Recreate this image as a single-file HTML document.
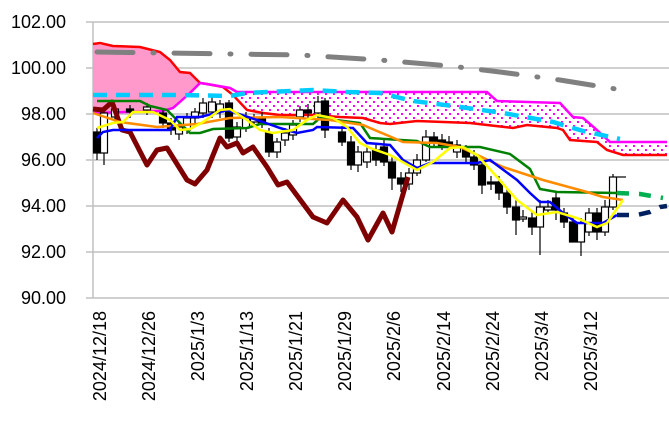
<!DOCTYPE html>
<html><head><meta charset="utf-8"><style>html,body{margin:0;padding:0;background:#fff}svg{display:block}</style></head><body>
<svg width="669" height="421" xmlns="http://www.w3.org/2000/svg" font-family="Liberation Sans, sans-serif">
<defs>
<pattern id="dots" width="8" height="8" patternUnits="userSpaceOnUse">
<rect width="8" height="8" fill="#fff"/><rect x="1" y="1" width="2" height="2" fill="#ff00ff"/><rect x="5" y="5" width="2" height="2" fill="#ff00ff"/></pattern>
<clipPath id="cL"><rect x="0" y="0" width="200" height="421"/></clipPath>
<clipPath id="cR"><rect x="200" y="0" width="469" height="421"/></clipPath>
</defs>
<g stroke="#c0c0c0" stroke-width="1.5">
<line x1="86" y1="22" x2="669" y2="22"/><line x1="86" y1="68" x2="669" y2="68"/><line x1="86" y1="114" x2="669" y2="114"/><line x1="86" y1="160" x2="669" y2="160"/><line x1="86" y1="206" x2="669" y2="206"/><line x1="86" y1="252" x2="669" y2="252"/><line x1="86" y1="298" x2="669" y2="298"/>
<line x1="93" y1="22" x2="93" y2="298"/>
</g>
<g font-size="18" text-anchor="end" fill="#000">
<text x="66" y="28">102.00</text><text x="66" y="74">100.00</text><text x="66" y="120">98.00</text><text x="66" y="166">96.00</text><text x="66" y="212">94.00</text><text x="66" y="258">92.00</text><text x="66" y="304">90.00</text>
</g>
<g font-size="18" text-anchor="end" fill="#000">
<text transform="translate(106,311) rotate(-90)">2024/12/18</text>
<text transform="translate(155,311) rotate(-90)">2024/12/26</text>
<text transform="translate(204,311) rotate(-90)">2025/1/3</text>
<text transform="translate(253,311) rotate(-90)">2025/1/13</text>
<text transform="translate(302,311) rotate(-90)">2025/1/21</text>
<text transform="translate(351,311) rotate(-90)">2025/1/29</text>
<text transform="translate(400,311) rotate(-90)">2025/2/6</text>
<text transform="translate(450,311) rotate(-90)">2025/2/14</text>
<text transform="translate(499,311) rotate(-90)">2025/2/24</text>
<text transform="translate(548,311) rotate(-90)">2025/3/4</text>
<text transform="translate(597,311) rotate(-90)">2025/3/12</text>
</g>
<polygon clip-path="url(#cL)" fill="#ff99cc" points="93,44 113,46 140,47 160,52 170,60 180,72 190,73 200,83 207,84 223,87 233,95 247,110 263,113 280,115 313,115 340,117 363,118 380,123 390,124 417,121 470,123 513,128 527,125 557,128 563,130 570,140 597,142 607,150 623,155 667,155 667,142 610,142 597,130 583,118 573,117 560,103 497,101 487,92 237,92 230,88 213,85 200,83 190,93 173,108 163,111 93,113"/>
<polygon clip-path="url(#cR)" fill="url(#dots)" points="93,44 113,46 140,47 160,52 170,60 180,72 190,73 200,83 207,84 223,87 233,95 247,110 263,113 280,115 313,115 340,117 363,118 380,123 390,124 417,121 470,123 513,128 527,125 557,128 563,130 570,140 597,142 607,150 623,155 667,155 667,142 610,142 597,130 583,118 573,117 560,103 497,101 487,92 237,92 230,88 213,85 200,83 190,93 173,108 163,111 93,113"/>
<polyline fill="none" stroke="#ff0000" stroke-width="2.5" points="93,44 100,43 113,46 140,47 160,52 170,60 180,72 190,73 200,83 207,84 223,87 233,95 247,110 263,113 280,115 313,115 340,117 363,118 380,123 390,124 417,121 470,123 513,128 527,125 557,128 563,130 570,140 597,142 607,150 623,155 667,155"/>
<polyline fill="none" stroke="#ff00ff" stroke-width="2.5" points="93,113 163,111 173,108 190,93 200,83 213,85 230,88 237,92 487,92 497,101 560,103 573,117 583,118 597,130 610,142 667,142"/>
<g stroke="#000" stroke-width="1.2">
<line x1="97" y1="128" x2="97" y2="160"/><rect x="93.5" y="132" width="7" height="21" fill="#000"/>
<line x1="104" y1="110" x2="104" y2="165"/><rect x="100.5" y="113" width="7" height="40" fill="#fff"/>
<line x1="115" y1="104" x2="115" y2="122"/><rect x="111.5" y="109" width="7" height="8" fill="#fff"/>
<line x1="130" y1="105" x2="130" y2="118"/><rect x="126.5" y="109" width="7" height="3" fill="#000"/>
<line x1="147" y1="103" x2="147" y2="115"/><rect x="143.5" y="107" width="7" height="3" fill="#fff"/>
<line x1="163" y1="108" x2="163" y2="128"/><rect x="159.5" y="113" width="7" height="10" fill="#000"/>
<line x1="171" y1="118" x2="171" y2="135"/><rect x="167.5" y="123" width="7" height="7" fill="#000"/>
<line x1="179" y1="122" x2="179" y2="140"/><rect x="175.5" y="127" width="7" height="7" fill="#fff"/>
<line x1="187" y1="113" x2="187" y2="134"/><rect x="183.5" y="118" width="7" height="12" fill="#fff"/>
<line x1="195" y1="108" x2="195" y2="125"/><rect x="191.5" y="112" width="7" height="6" fill="#fff"/>
<line x1="203" y1="98" x2="203" y2="118"/><rect x="199.5" y="103" width="7" height="10" fill="#fff"/>
<line x1="212" y1="96" x2="212" y2="118"/><rect x="208.5" y="102" width="7" height="10" fill="#fff"/>
<line x1="220" y1="100" x2="220" y2="118"/><rect x="216.5" y="104" width="7" height="8" fill="#fff"/>
<line x1="229" y1="100" x2="229" y2="142"/><rect x="225.5" y="103" width="7" height="35" fill="#000"/>
<line x1="237" y1="122" x2="237" y2="142"/><rect x="233.5" y="127" width="7" height="10" fill="#fff"/>
<line x1="246" y1="112" x2="246" y2="132"/><rect x="242.5" y="118" width="7" height="10" fill="#fff"/>
<line x1="254" y1="114" x2="254" y2="126"/><rect x="250.5" y="118" width="7" height="4" fill="#fff"/>
<line x1="262" y1="112" x2="262" y2="128"/><rect x="258.5" y="118" width="7" height="5" fill="#000"/>
<line x1="269" y1="128" x2="269" y2="157"/><rect x="265.5" y="133" width="7" height="19" fill="#000"/>
<line x1="277" y1="138" x2="277" y2="158"/><rect x="273.5" y="142" width="7" height="10" fill="#fff"/>
<line x1="285" y1="128" x2="285" y2="146"/><rect x="281.5" y="133" width="7" height="7" fill="#fff"/>
<line x1="293" y1="120" x2="293" y2="140"/><rect x="289.5" y="125" width="7" height="10" fill="#fff"/>
<line x1="300" y1="106" x2="300" y2="122"/><rect x="296.5" y="110" width="7" height="7" fill="#fff"/>
<line x1="308" y1="104" x2="308" y2="118"/><rect x="304.5" y="110" width="7" height="3" fill="#000"/>
<line x1="318" y1="96" x2="318" y2="118"/><rect x="314.5" y="102" width="7" height="11" fill="#fff"/>
<line x1="325" y1="98" x2="325" y2="138"/><rect x="321.5" y="101" width="7" height="29" fill="#000"/>
<line x1="342" y1="126" x2="342" y2="146"/><rect x="338.5" y="132" width="7" height="10" fill="#000"/>
<line x1="351" y1="136" x2="351" y2="170"/><rect x="347.5" y="142" width="7" height="23" fill="#000"/>
<line x1="358" y1="146" x2="358" y2="172"/><rect x="354.5" y="152" width="7" height="13" fill="#fff"/>
<line x1="367" y1="146" x2="367" y2="168"/><rect x="363.5" y="152" width="7" height="10" fill="#fff"/>
<line x1="376" y1="144" x2="376" y2="166"/><rect x="372.5" y="150" width="7" height="10" fill="#000"/>
<line x1="384" y1="140" x2="384" y2="166"/><rect x="380.5" y="147" width="7" height="15" fill="#000"/>
<line x1="392" y1="156" x2="392" y2="190"/><rect x="388.5" y="162" width="7" height="16" fill="#000"/>
<line x1="401" y1="172" x2="401" y2="192"/><rect x="397.5" y="178" width="7" height="6" fill="#000"/>
<line x1="409" y1="168" x2="409" y2="190"/><rect x="405.5" y="173" width="7" height="11" fill="#fff"/>
<line x1="417" y1="154" x2="417" y2="176"/><rect x="413.5" y="160" width="7" height="13" fill="#fff"/>
<line x1="426" y1="130" x2="426" y2="162"/><rect x="422.5" y="137" width="7" height="23" fill="#fff"/>
<line x1="434" y1="132" x2="434" y2="148"/><rect x="430.5" y="137" width="7" height="6" fill="#000"/>
<line x1="442" y1="134" x2="442" y2="150"/><rect x="438.5" y="140" width="7" height="6" fill="#000"/>
<line x1="449" y1="136" x2="449" y2="150"/><rect x="445.5" y="142" width="7" height="3" fill="#000"/>
<line x1="457" y1="140" x2="457" y2="158"/><rect x="453.5" y="145" width="7" height="7" fill="#fff"/>
<line x1="466" y1="145" x2="466" y2="162"/><rect x="462.5" y="150" width="7" height="7" fill="#000"/>
<line x1="474" y1="150" x2="474" y2="170"/><rect x="470.5" y="157" width="7" height="8" fill="#000"/>
<line x1="482" y1="160" x2="482" y2="194"/><rect x="478.5" y="165" width="7" height="20" fill="#000"/>
<line x1="491" y1="176" x2="491" y2="190"/><rect x="487.5" y="182" width="7" height="2" fill="#000"/>
<line x1="499" y1="176" x2="499" y2="200"/><rect x="495.5" y="182" width="7" height="11" fill="#000"/>
<line x1="507" y1="188" x2="507" y2="214"/><rect x="503.5" y="193" width="7" height="14" fill="#000"/>
<line x1="516" y1="200" x2="516" y2="235"/><rect x="512.5" y="207" width="7" height="13" fill="#000"/>
<line x1="523" y1="210" x2="523" y2="222"/><rect x="519.5" y="217" width="7" height="2" fill="#fff"/>
<line x1="532" y1="212" x2="532" y2="235"/><rect x="528.5" y="218" width="7" height="9" fill="#000"/>
<line x1="540" y1="200" x2="540" y2="255"/><rect x="536.5" y="207" width="7" height="20" fill="#fff"/>
<line x1="548" y1="200" x2="548" y2="214"/><rect x="544.5" y="207" width="7" height="3" fill="#fff"/>
<line x1="556" y1="192" x2="556" y2="220"/><rect x="552.5" y="198" width="7" height="12" fill="#000"/>
<line x1="564" y1="208" x2="564" y2="228"/><rect x="560.5" y="213" width="7" height="9" fill="#000"/>
<line x1="573" y1="216" x2="573" y2="242"/><rect x="569.5" y="222" width="7" height="20" fill="#000"/>
<line x1="581" y1="218" x2="581" y2="256"/><rect x="577.5" y="223" width="7" height="19" fill="#fff"/>
<line x1="589" y1="208" x2="589" y2="236"/><rect x="585.5" y="213" width="7" height="19" fill="#fff"/>
<line x1="597" y1="208" x2="597" y2="240"/><rect x="593.5" y="213" width="7" height="19" fill="#000"/>
<line x1="605" y1="200" x2="605" y2="236"/><rect x="601.5" y="207" width="7" height="25" fill="#fff"/>
<line x1="613" y1="174" x2="613" y2="210"/><rect x="609.5" y="177" width="7" height="30" fill="#fff"/>
<line x1="617" y1="177" x2="626" y2="177"/>
</g>
<polyline fill="none" stroke="#808080" stroke-width="5" stroke-linecap="round" stroke-dasharray="36 20 1 20" points="97,52 300,55 380,60 450,66 500,72 560,80 622,90"/>
<polyline fill="none" stroke="#00ccff" stroke-width="4.5" stroke-dasharray="14 9" points="93,95 180,95 230,96 247,93 313,90 347,92 380,93 413,101 453,106 503,113 553,122 583,131 620,139"/>
<polyline fill="none" stroke="#7f0000" stroke-width="5" stroke-linejoin="round" points="93,109 103,110 112,102 122,130 130,132 147,165 157,150 167,148 187,180 195,184 207,170 220,138 227,147 237,143 243,153 253,147 267,167 278,185 287,182 313,217 327,223 343,200 357,217 368,240 383,213 392,232 408,177"/>
<polyline fill="none" stroke="#008000" stroke-width="2.5" points="97,101 140,101 150,106 167,110 180,123 190,133 200,133 213,129 247,128 260,124 313,124 320,118 360,123 370,138 417,141 430,147 480,147 510,154 530,169 540,189 557,192 617,193"/>
<polyline fill="none" stroke="#00b050" stroke-width="4.5" stroke-dasharray="12 10" points="617,193 640,194 663,198"/>
<polyline fill="none" stroke="#ff8c00" stroke-width="2.5" points="93,113 120,122 157,127 197,124 230,118 280,117 330,120 363,125 370,128 403,142 437,143 460,147 503,167 543,180 587,192 603,197 623,200"/>
<polyline fill="none" stroke="#0000ff" stroke-width="2.5" points="97,138 103,132 113,130 170,130 177,117 200,117 220,112 227,110 263,122 280,128 297,133 313,130 317,127 353,128 367,143 390,145 403,160 417,168 430,163 477,163 490,160 517,180 530,193 540,202 550,202 563,213 577,223 603,223 617,215"/>
<polyline fill="none" stroke="#002060" stroke-width="4.5" stroke-dasharray="12 10" points="617,215 637,215 650,212 660,207 667,206"/>
<polyline fill="none" stroke="#ffff00" stroke-width="2.5" points="97,128 113,123 123,122 133,112 153,112 170,120 180,130 190,129 203,122 220,110 230,109 247,120 260,130 273,133 293,130 307,120 317,115 333,118 347,127 360,143 370,148 390,155 417,170 433,162 450,148 463,147 477,155 497,177 517,200 537,215 557,212 577,218 597,227 607,223 623,200"/>
</svg>
</body></html>
